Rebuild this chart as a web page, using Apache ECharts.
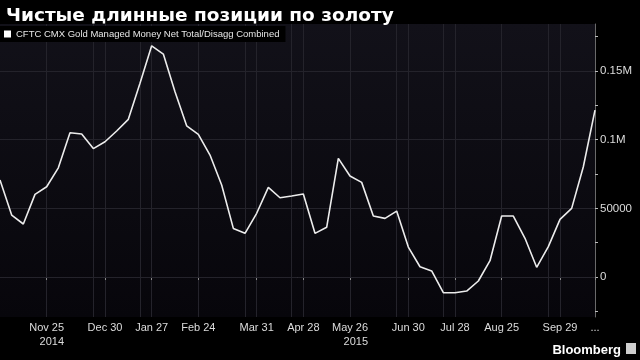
<!DOCTYPE html>
<html>
<head>
<meta charset="utf-8">
<script src="https://cdn.jsdelivr.net/npm/echarts@6/dist/echarts.min.js"></script>
<style>
html,body{margin:0;padding:0;background:#000;}
#c{width:640px;height:360px;}
</style>
</head>
<body>
<div id="c"></div>
<script>
// Weekly report dates (Tuesdays), Oct 28 2014 .. Oct 20 2015
const startDate = new Date(Date.UTC(2014, 9, 28));
const dates = [];
for (let i = 0; i < 52; i++) {
  const d = new Date(startDate.getTime() + i * 7 * 86400000);
  dates.push(d.toISOString().slice(0, 10));
}
const netPositions = [
  70600, 45100, 38600, 60200, 65700, 79500, 105000, 104100, 93500, 98500,
  106300, 114800, 141000, 168300, 162300, 134900, 110100, 103900, 88800, 67000,
  35400, 31800, 46400, 65300, 57700, 59000, 60400, 31800, 36200, 86400,
  73500, 68900, 44400, 42700, 48000, 21800, 7500, 4400, -11400, -11400,
  -10200, -2900, 11900, 44400, 44400, 28200, 7100, 22100, 42000, 50000,
  80300, 121500
];
// x-axis labels (by index into dates)
const xLabels = {4: 'Nov 25', 9: 'Dec 30', 13: 'Jan 27', 17: 'Feb 24', 22: 'Mar 31',
  26: 'Apr 28', 30: 'May 26', 35: 'Jun 30', 39: 'Jul 28', 43: 'Aug 25', 48: 'Sep 29', 51: '...'};
const yearLabels = {4: '2014', 30: '2015'};
const xGridIdx = [4, 8, 9, 12, 13, 17, 21, 22, 25, 26, 30, 34, 35, 38, 39, 43, 47, 48];
const yLabelValues = [0, 50000, 100000, 150000];
const yTickValues = [-25000, 0, 25000, 50000, 75000, 100000, 125000, 150000, 175000];
const yLabelText = {0: '0', 50000: '50000', 100000: '0.1M', 150000: '0.15M'};
const seriesName = 'CFTC CMX Gold Managed Money Net Total/Disagg Combined';
const titleText = 'Чистые длинные позиции по золоту';

const chart = echarts.init(document.getElementById('c'));
const font = 'Liberation Sans';
chart.setOption({
  backgroundColor: '#000',
  animation: false,
  title: {
    text: titleText,
    left: 1, top: 2,
    textStyle: {color: '#fff', fontSize: 18.5, fontWeight: 'bold', fontFamily: 'DejaVu Sans'}
  },
  legend: {
    left: 0, top: 26,
    padding: [3, 6, 3, 4],
    backgroundColor: '#000',
    itemWidth: 7, itemHeight: 7, itemGap: 3,
    icon: 'rect',
    textStyle: {color: '#e6e6e6', fontSize: 9.5, fontFamily: font},
    data: [{name: seriesName, itemStyle: {color: '#fff'}}]
  },
  grid: {
    left: 0, right: 45, top: 24, bottom: 43,
    show: true,
    borderWidth: 0,
    backgroundColor: new echarts.graphic.LinearGradient(0, 0, 0, 1, [
      {offset: 0, color: '#121119'},
      {offset: 1, color: '#07060b'}
    ])
  },
  xAxis: {
    type: 'category',
    data: dates,
    boundaryGap: false,
    axisLine: {show: true, lineStyle: {color: '#6a6a6a', width: 1}},
    axisTick: {show: true, length: 3, lineStyle: {color: '#8a8a8a'},
      interval: (i) => xLabels[i] !== undefined},
    axisLabel: {
      color: '#dcdcdc', fontSize: 11, fontFamily: font, lineHeight: 14, margin: 4,
      interval: (i) => xLabels[i] !== undefined,
      formatter: (v, i) => xLabels[i] ? ('{a|' + xLabels[i] + '}' + (yearLabels[i] ? '\n{b|' + yearLabels[i] + '}' : '')) : '',
      rich: {
        a: {color: '#dcdcdc', fontSize: 11, fontFamily: font, lineHeight: 14},
        b: {color: '#dcdcdc', fontSize: 11, fontFamily: font, lineHeight: 14, align: 'right'}
      }
    },
    splitLine: {show: true, interval: (i) => xGridIdx.indexOf(i) >= 0,
      lineStyle: {color: '#24232b', width: 1}}
  },
  yAxis: {
    type: 'value',
    position: 'right',
    min: -29100, max: 184200,
    axisLine: {show: true, lineStyle: {color: '#6a6a6a', width: 1}},
    axisTick: {show: true, length: 3, inside: false, customValues: yTickValues,
      lineStyle: {color: '#bcbcbc'}},
    axisLabel: {
      customValues: yLabelValues,
      color: '#dcdcdc', fontSize: 11.5, fontFamily: font, margin: 5,
      formatter: (v) => yLabelText[v] !== undefined ? yLabelText[v] : ''
    },
    splitLine: {show: false}
  },
  series: [{
    name: seriesName,
    type: 'line',
    data: netPositions,
    showSymbol: false,
    symbol: 'none',
    lineStyle: {color: '#ececec', width: 1.6},
    itemStyle: {color: '#fff'},
    markLine: {
      silent: true, symbol: 'none', label: {show: false},
      lineStyle: {color: '#24232b', width: 1, type: 'solid'},
      data: yLabelValues.map(v => ({yAxis: v}))
    },
    z: 5
  }],
  graphic: [{
    type: 'text', right: 19, bottom: 3,
    style: {text: 'Bloomberg', fill: '#fff', font: 'bold 13px "Liberation Sans"'}
  }, {
    type: 'rect', right: 4, bottom: 6,
    shape: {width: 10, height: 11},
    style: {fill: '#cfcfcf'}
  }]
});
</script>
</body>
</html>
